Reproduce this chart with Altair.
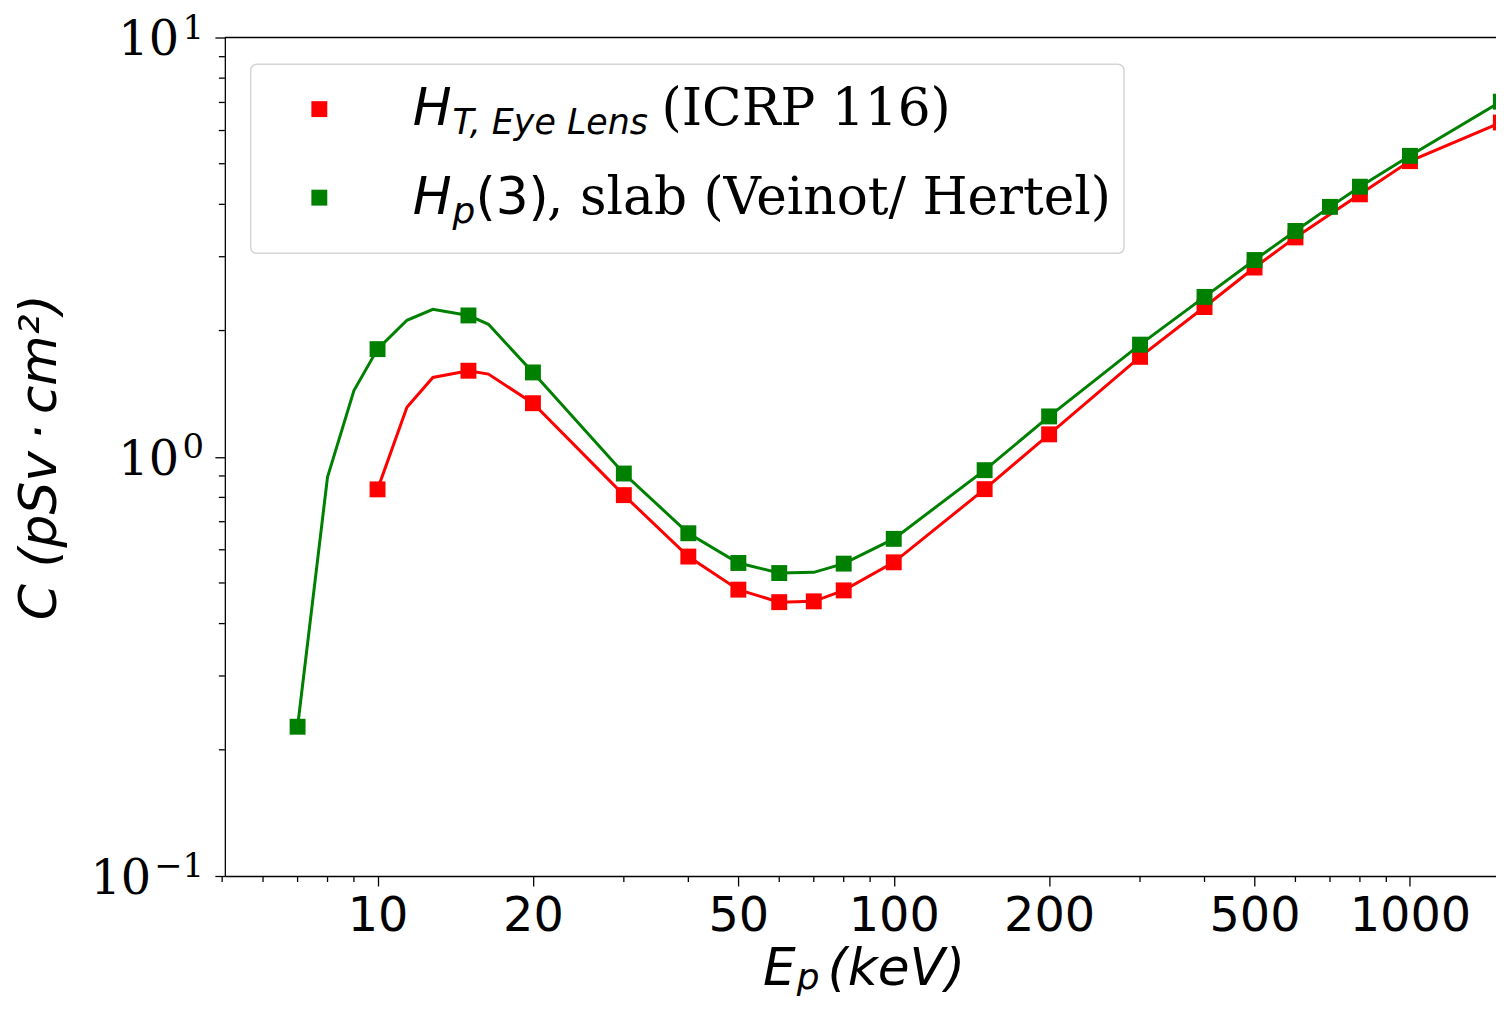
import altair as alt
import pandas as pd

# ---------------- data ----------------
red_E = [10, 11.4, 12.8, 15, 16.4, 20, 30, 40, 50, 60, 70, 80, 100, 150, 200,
         300, 400, 500, 600, 800, 1000, 1500]
red_C = [0.836, 1.313, 1.546, 1.604, 1.575, 1.342, 0.810, 0.578, 0.482, 0.450,
         0.452, 0.480, 0.560, 0.837, 1.131, 1.731, 2.276, 2.827, 3.336, 4.226,
         5.072, 6.27]
red_marker_E = [10, 15, 20, 30, 40, 50, 60, 70, 80, 100, 150, 200, 300, 400,
                500, 600, 800, 1000, 1500]

green_E = [7, 8, 9, 10, 11.4, 12.8, 15, 16.4, 20, 30, 40, 50, 60, 70, 80, 100,
           150, 200, 300, 400, 500, 600, 700, 800, 1000, 1500]
green_C = [0.227, 0.895, 1.438, 1.806, 2.116, 2.247, 2.173, 2.07, 1.589, 0.912,
           0.657, 0.558, 0.528, 0.530, 0.556, 0.637, 0.929, 1.248, 1.851, 2.406,
           2.946, 3.456, 3.945, 4.407, 5.221, 7.03]
green_marker_E = [7, 10, 15, 20, 30, 40, 50, 60, 80, 100, 150, 200, 300, 400,
                  500, 600, 700, 800, 1000, 1500]

x_tick_values = [10, 20, 50, 100, 200, 500, 1000]
x_minor_values = [5, 6, 7, 8, 9, 30, 40, 60, 70, 80, 90, 300, 400, 600, 700, 800, 900]
y_tick_values = [0.1, 1, 10]
y_tick_exponents = ["\u22121", "0", "1"]
y_minor_values = [0.2, 0.3, 0.4, 0.5, 0.6, 0.7, 0.8, 0.9, 2, 3, 4, 5, 6, 7, 8, 9]

RED = "#ff0000"
GREEN = "#008000"
W, H = 1278, 843

red_df = pd.DataFrame({"E": red_E, "C": red_C})
green_df = pd.DataFrame({"E": green_E, "C": green_C})
red_pts = red_df[red_df["E"].isin(red_marker_E)]
green_pts = green_df[green_df["E"].isin(green_marker_E)]
ytick_df = pd.DataFrame({"C": y_tick_values, "exp": y_tick_exponents})

xscale = alt.Scale(type="log", domain=[5.06, 1468], nice=False)
yscale = alt.Scale(type="log", domain=[0.1, 10], nice=False)

x_axis = alt.Axis(values=x_tick_values, format="d", title=None, grid=False,
                  labelFont="DejaVu Sans", labelFontSize=48, labelColor="black",
                  labelPadding=7, labelFlush=False, labelOverlap=False,
                  tickSize=10, tickColor="black", tickWidth=1.3,
                  domainColor="black", domainWidth=1.3)
y_axis = alt.Axis(values=y_tick_values, grid=False, labels=False,
                  tickSize=10, tickColor="black", tickWidth=1.3,
                  domainColor="black", domainWidth=1.3,
                  title="C (pSv\u2009·\u2009cm²)", titleFont="DejaVu Sans",
                  titleFontStyle="italic", titleFontWeight="normal",
                  titleFontSize=52, titleColor="black",
                  titleX=-170, titleY=H / 2, titleAngle=270,
                  titleBaseline="alphabetic", titleAlign="center")


def X(field):
    return alt.X(field, scale=xscale, axis=x_axis)


def Y(field):
    return alt.Y(field, scale=yscale, axis=y_axis)


red_line = alt.Chart(red_df).mark_line(color=RED, strokeWidth=3).encode(
    x=X("E:Q"), y=Y("C:Q"), order="E:Q")
red_marks = alt.Chart(red_pts).mark_square(color=RED, size=256, opacity=1).encode(
    x=X("E:Q"), y=Y("C:Q"))
green_line = alt.Chart(green_df).mark_line(color=GREEN, strokeWidth=3).encode(
    x=X("E:Q"), y=Y("C:Q"), order="E:Q")
green_marks = alt.Chart(green_pts).mark_square(color=GREEN, size=256, opacity=1).encode(
    x=X("E:Q"), y=Y("C:Q"))

y_minor = alt.Chart(pd.DataFrame({"C": y_minor_values})).mark_rule(
    color="black", strokeWidth=1.3).encode(
    y=Y("C:Q"), x=alt.value(-6), x2=alt.value(0))
x_minor = alt.Chart(pd.DataFrame({"E": x_minor_values})).mark_rule(
    color="black", strokeWidth=1.3).encode(
    x=X("E:Q"), y=alt.value(H), y2=alt.value(H + 6))

# y tick labels as "10" with a raised exponent (placed through the y scale)
ylab_base_pos = alt.Chart(ytick_df[ytick_df["C"] > 0.5]).mark_text(
    font="DejaVu Serif", fontSize=48, align="right", baseline="alphabetic",
    dy=18, color="black", text="10").encode(y=Y("C:Q"), x=alt.value(-46))
ylab_base_neg = alt.Chart(ytick_df[ytick_df["C"] < 0.5]).mark_text(
    font="DejaVu Serif", fontSize=48, align="right", baseline="alphabetic",
    dy=18, color="black", text="10").encode(y=Y("C:Q"), x=alt.value(-74))
ylab_exp = alt.Chart(ytick_df).mark_text(
    font="DejaVu Serif", fontSize=34, align="right", baseline="alphabetic",
    dy=1, color="black").encode(y=Y("C:Q"), x=alt.value(-21), text="exp:N")

top_spine = alt.Chart(pd.DataFrame({"a": [0]})).mark_rule(
    color="black", strokeWidth=1.3).encode(
    x=alt.value(0), x2=alt.value(W), y=alt.value(0))


def txt(s, x, y, font="DejaVu Sans", size=52, style="italic"):
    return alt.Chart(pd.DataFrame({"t": [s]})).mark_text(
        font=font, fontSize=size, fontStyle=style, baseline="alphabetic",
        align="left", color="black").encode(
        x=alt.value(x), y=alt.value(y), text="t:N")


legend_box = alt.Chart(pd.DataFrame({"a": [0]})).mark_rect(
    cornerRadius=6, fill="white", fillOpacity=0.8, stroke="#d5d5d5",
    strokeWidth=1.5).encode(
    x=alt.value(26), x2=alt.value(904), y=alt.value(27), y2=alt.value(217))
leg_red = alt.Chart(pd.DataFrame({"a": [0]})).mark_square(
    color=RED, size=256, opacity=1).encode(x=alt.value(95), y=alt.value(72))
leg_green = alt.Chart(pd.DataFrame({"a": [0]})).mark_square(
    color=GREEN, size=256, opacity=1).encode(x=alt.value(95), y=alt.value(161))

texts = [
    # legend row 1
    txt("H", 189, 88),
    txt("T, Eye Lens", 229, 97, size=35),
    txt("(ICRP 116)", 439, 88, font="DejaVu Serif", style="normal"),
    # legend row 2
    txt("H", 189, 177),
    txt("p", 229, 186, size=36),
    txt("(3)", 252, 177, style="normal"),
    txt(", slab (Veinot/ Hertel)", 324, 177, font="DejaVu Serif", style="normal"),
    # x-axis title
    txt("E", 541, 953),
    txt("p", 575, 957, size=36),
    txt("(keV)", 606, 953),
]

chart = alt.layer(
    red_line, red_marks, green_line, green_marks,
    y_minor, x_minor, ylab_base_pos, ylab_base_neg, ylab_exp, top_spine,
    legend_box, leg_red, leg_green, *texts,
).properties(
    width=W, height=H,
    padding={"left": 218, "top": 27, "right": 0, "bottom": 124},
    autosize=alt.AutoSizeParams(type="none"),
).configure_view(stroke=None)

chart.save("out.html", embed_options={"renderer": "svg", "actions": False})
